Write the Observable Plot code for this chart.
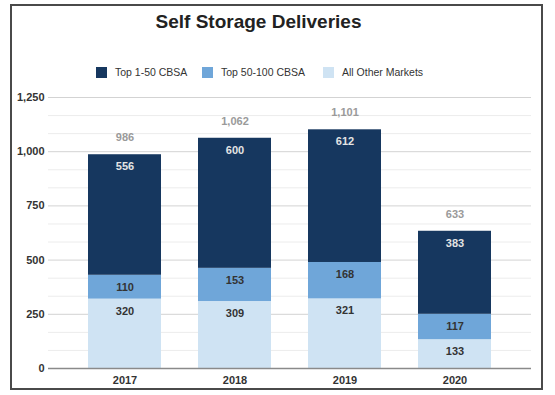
<!DOCTYPE html>
<html><head><meta charset="utf-8">
<script src="https://cdn.jsdelivr.net/npm/d3@7"></script>
<script src="https://cdn.jsdelivr.net/npm/@observablehq/plot@0.6"></script>
<style>
body{margin:0;background:#fff;font-family:"Liberation Sans",Arial,sans-serif;}
#wrap{position:relative;width:555px;height:395px;overflow:hidden}
#frame{position:absolute;left:10px;top:4px;width:533px;height:386px;border:2px solid #4a4a4a;box-sizing:border-box;pointer-events:none}
#title{position:absolute;left:0px;width:517px;top:11px;text-align:center;font-weight:bold;font-size:19px;line-height:21px;color:#222;}
.leg{position:absolute;top:66px;height:12px;font-size:10.5px;line-height:12px;color:#333;display:flex;align-items:center;white-space:nowrap}
.sw{width:11px;height:11px;margin-right:8px}
#chart{position:absolute;left:0;top:85px}
</style>
</head><body>
<div id="wrap">
  <div id="title">Self Storage Deliveries</div>
  <div id="legend"></div>
  <div id="chart"></div>
  <div id="frame"></div>
</div>
<script>
const years = ["2017", "2018", "2019", "2020"];
const seriesNames = ["Top 1-50 CBSA", "Top 50-100 CBSA", "All Other Markets"];
const colors = ["#16375f", "#6fa6d9", "#cfe3f3"];
const top50 = [556, 600, 612, 383];
const top100 = [110, 153, 168, 117];
const other = [320, 309, 321, 133];
const yTicks = [0, 250, 500, 750, 1000, 1250];
const legendLeft = [96, 202, 323];

const data = [];
years.forEach((y, i) => {
  data.push({year: y, series: "All Other Markets", value: other[i]});
  data.push({year: y, series: "Top 50-100 CBSA", value: top100[i]});
  data.push({year: y, series: "Top 1-50 CBSA", value: top50[i]});
});
const order = ["All Other Markets", "Top 50-100 CBSA", "Top 1-50 CBSA"];
const minor = d3.range(0, 1250, 250 / 3).filter(v => Math.abs(v / 250 - Math.round(v / 250)) > 1e-6);

// legend
const leg = document.getElementById("legend");
seriesNames.forEach((s, i) => {
  const item = document.createElement("div");
  item.className = "leg";
  item.style.left = legendLeft[i] + "px";
  const sw = document.createElement("div");
  sw.className = "sw";
  sw.style.background = colors[i];
  const t = document.createElement("span");
  t.textContent = s;
  item.appendChild(sw); item.appendChild(t);
  leg.appendChild(item);
});

const fmt = d3.format(",");
const lab = (series, fill) => Plot.text(data, Plot.filter(d => d.series === series,
  Plot.stackY2({x: "year", y: "value", z: "series", order, text: "value", dy: 12, fill, fontWeight: "bold", fontSize: 11})));

const chart = Plot.plot({
  width: 555, height: 310, marginTop: 12, marginBottom: 27, marginLeft: 48, marginRight: 24,
  style: {fontFamily: '"Liberation Sans", Arial, sans-serif', fontSize: "11px", background: "transparent"},
  x: {domain: years, paddingInner: 0.34, paddingOuter: 0.35, label: null},
  y: {domain: [0, 1250], label: null},
  color: {domain: seriesNames, range: colors},
  marks: [
    Plot.ruleY(minor, {stroke: "#ececec"}),
    Plot.ruleY(yTicks.slice(1), {stroke: "#d3d3d3"}),
    Plot.barY(data, {x: "year", y: "value", fill: "series", order}),
    Plot.ruleY([0], {stroke: "#8a8a8a", strokeWidth: 1.5}),
    Plot.axisY({ticks: yTicks, tickSize: 0, tickPadding: 4, tickFormat: fmt, fontWeight: "bold", fill: "#333", label: null}),
    Plot.axisX({tickSize: 0, tickPadding: 8, fontWeight: "bold", fill: "#333", label: null}),
    lab("Top 1-50 CBSA", "#e4e4e4"),
    lab("Top 50-100 CBSA", "#333"),
    lab("All Other Markets", "#333"),
    Plot.text(data, Plot.groupX({y: "sum", text: "sum"}, {x: "year", y: "value", text: "value", dy: -17, fill: "#9a9a9a", fontWeight: "bold", fontSize: 11}))
  ]
});
document.getElementById("chart").appendChild(chart);
</script>
</body></html>
